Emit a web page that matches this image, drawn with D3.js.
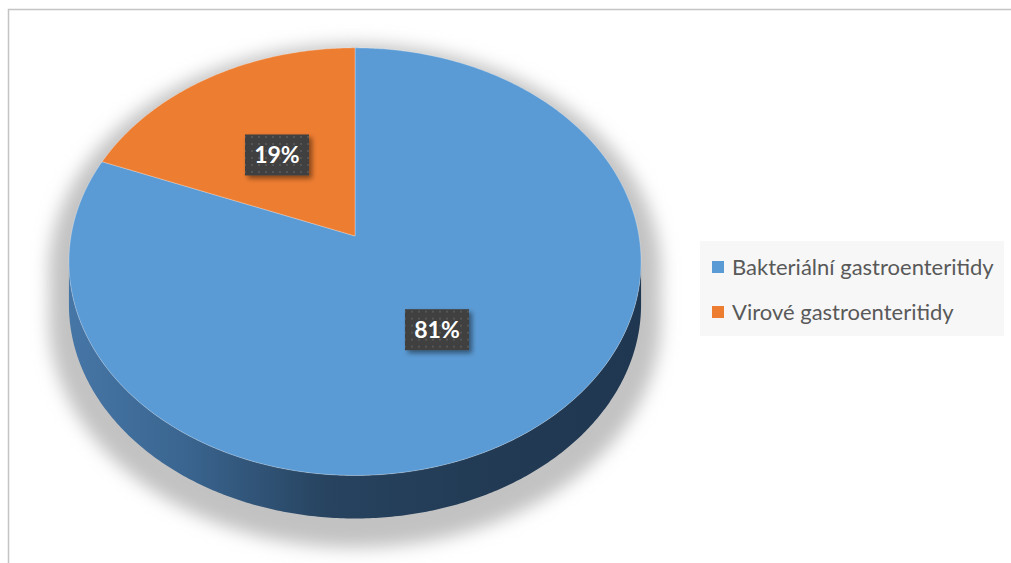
<!DOCTYPE html>
<html>
<head>
<meta charset="utf-8">
<script src="https://cdn.jsdelivr.net/npm/d3@7"></script>
<style>
  html, body { margin: 0; padding: 0; background: #fff; }
  svg { display: block; }
</style>
</head>
<body>
<svg id="chart"></svg>
<script>
const categories = ["Bakteriální gastroenteritidy", "Virové gastroenteritidy"];
const values = [81, 19];
const labels = ["81%", "19%"];
const colors = ["#5b9bd5", "#ed7d31"];

const width = 1011, height = 563;

// 3d view of the pie: centre, radius, tilt, perspective, wall depth
const cx = 355, cy = 236;
const rad = 284;       // horizontal radius
const tilt = 0.742;    // sin of the view angle
const persp = 0.12;    // how much the far half shrinks
const depth = 43;

const svg = d3.select("#chart").attr("width", width).attr("height", height);
const defs = svg.append("defs");

// project angle (clockwise from top) and radius fraction to the screen
const proj = (phi, r) => {
  const k = 1 + persp * r * Math.cos(phi);
  return [cx + rad * r * Math.sin(phi) / k, cy - rad * tilt * r * Math.cos(phi) / k];
};
const arcPts = (a0, a1, r, dy = 0) => {
  const n = Math.max(2, Math.ceil(Math.abs(a1 - a0) / 0.01));
  return d3.range(n + 1).map(i => {
    const p = proj(a0 + (a1 - a0) * i / n, r);
    return [p[0], p[1] + dy];
  });
};
const line = d3.line();

// frame
svg.append("rect")
  .attr("x", 8.5).attr("y", 9.5)
  .attr("width", width + 10).attr("height", height + 10)
  .attr("fill", "#fff").attr("stroke", "#c4c4c4").attr("stroke-width", 1.5);

// filters / patterns
defs.append("filter").attr("id", "blur")
  .attr("x", "-20%").attr("y", "-20%").attr("width", "140%").attr("height", "140%")
  .append("feGaussianBlur").attr("stdDeviation", 8);

const ds = defs.append("filter").attr("id", "lblShadow")
  .attr("x", "-30%").attr("y", "-30%").attr("width", "160%").attr("height", "160%");
ds.append("feDropShadow").attr("dx", 3).attr("dy", 3).attr("stdDeviation", 2.5)
  .attr("flood-color", "#000").attr("flood-opacity", 0.45);

const pat = defs.append("pattern").attr("id", "dots")
  .attr("patternUnits", "userSpaceOnUse").attr("width", 7).attr("height", 7);
pat.append("rect").attr("width", 7).attr("height", 7).attr("fill", "#3f3f3f");
pat.append("rect").attr("x", 2).attr("y", 2).attr("width", 2).attr("height", 2).attr("fill", "#555");

const wallGrad = defs.append("linearGradient").attr("id", "wall")
  .attr("gradientUnits", "userSpaceOnUse")
  .attr("x1", cx - rad).attr("x2", cx + rad).attr("y1", 0).attr("y2", 0);
[[0, "#4676a6"], [0.2, "#3a6590"], [0.45, "#27435f"], [0.75, "#223a54"], [1, "#1f3751"]]
  .forEach(([o, c]) => wallGrad.append("stop").attr("offset", o).attr("stop-color", c));

// front wall visible between the two horizontal extremes
const phiR = Math.acos(-persp), phiL = 2 * Math.PI - phiR;
const topFront = arcPts(phiR, phiL, 1);
const botFront = arcPts(phiL, phiR, 1, depth);

// soft shadow under the pie
const full = arcPts(0, 2 * Math.PI, 1);
const shadow = svg.append("g")
  .attr("transform", `translate(${cx},100) scale(1.07) translate(${-cx},-100)`)
  .attr("filter", "url(#blur)");
shadow.append("path").attr("d", line(full) + "Z").attr("fill", "#c2c2c2");
shadow.append("path").attr("d", line(topFront.concat(botFront)) + "Z").attr("fill", "#c2c2c2");

// wall
svg.append("path")
  .attr("d", line(topFront.concat(botFront)) + "Z")
  .attr("fill", "url(#wall)");

// top face slices
const pie = d3.pie().sort(null).value(d => d)(values);
svg.append("g").selectAll("path")
  .data(pie)
  .join("path")
  .attr("d", d => line([proj(0, 0)].concat(arcPts(d.startAngle, d.endAngle, 1))) + "Z")
  .attr("fill", (d, i) => colors[i])
  .attr("stroke", "rgba(255,255,255,0.35)")
  .attr("stroke-width", 0.8);

// data labels
const lblW = 64, lblH = 41;
const lbl = svg.append("g").selectAll("g")
  .data(pie)
  .join("g")
  .attr("transform", d => {
    const p = proj((d.startAngle + d.endAngle) / 2, 0.5);
    return `translate(${p[0] - 2},${p[1] + 2})`;
  });
lbl.append("rect")
  .attr("x", -lblW / 2).attr("y", -lblH / 2)
  .attr("width", lblW).attr("height", lblH)
  .attr("fill", "url(#dots)")
  .attr("filter", "url(#lblShadow)");
lbl.append("text")
  .attr("text-anchor", "middle")
  .attr("dy", "0.36em")
  .attr("fill", "#fff")
  .style("font", "bold 23px Lato, 'Open Sans', sans-serif")
  .text((d, i) => labels[i]);

// legend
const legend = svg.append("g").attr("transform", "translate(700,241)");
legend.append("rect").attr("width", 304).attr("height", 95).attr("fill", "#f7f7f7");
const item = legend.selectAll("g.item")
  .data(categories)
  .join("g")
  .attr("class", "item")
  .attr("transform", (d, i) => `translate(12,${20 + i * 45})`);
item.append("rect").attr("width", 12).attr("height", 12).attr("fill", (d, i) => colors[i]);
item.append("text")
  .attr("x", 20).attr("y", 13.5)
  .attr("fill", "#595959")
  .style("font", "22px Lato, 'Open Sans', sans-serif")
  .text(d => d);
</script>
</body>
</html>
